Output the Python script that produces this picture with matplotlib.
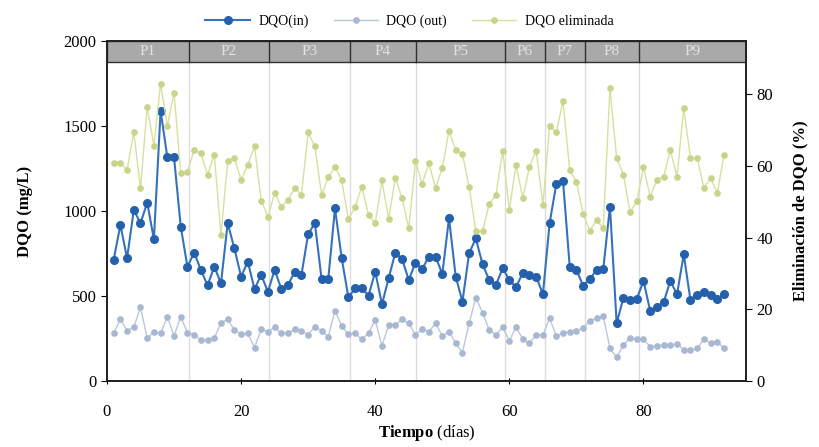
import matplotlib
matplotlib.use("Agg")
import matplotlib.pyplot as plt
import numpy as np

plt.rcParams['font.family'] = ['Liberation Serif', 'DejaVu Serif']
plt.rcParams['mathtext.fontset'] = 'custom'
plt.rcParams['mathtext.rm'] = 'Liberation Serif'
plt.rcParams['mathtext.bf'] = 'Liberation Serif:bold'

days = np.arange(1, 93)
dqo_in = [712, 918, 722, 1006, 928, 1049, 834, 1590, 1316, 1316,
          908, 672, 755, 653, 563, 672, 575, 928, 780, 614,
          702, 541, 624, 525, 653, 541, 565, 643, 624, 865,
          928, 600, 600, 1016, 722, 492, 545, 545, 502, 643,
          451, 604, 755, 718, 594, 696, 659, 731, 731, 629,
          957, 614, 467, 751, 839, 686, 594, 565, 663, 594,
          551, 637, 624, 614, 510, 928, 1159, 1178, 672, 653,
          561, 600, 653, 659, 1025, 339, 490, 476, 482, 590,
          412, 437, 463, 588, 510, 745, 476, 506, 525, 506,
          480, 512]
dqo_out = [280, 363, 296, 316, 434, 251, 290, 280, 378, 265,
           378, 284, 271, 241, 241, 251, 343, 363, 300, 275,
           280, 196, 304, 290, 316, 280, 280, 304, 296, 271,
           320, 294, 261, 414, 324, 275, 280, 245, 280, 359,
           206, 329, 329, 363, 339, 271, 304, 290, 339, 265,
           290, 222, 167, 339, 490, 402, 300, 271, 316, 237,
           316, 245, 222, 271, 271, 369, 265, 280, 290, 296,
           310, 355, 369, 382, 192, 139, 212, 251, 247, 245,
           202, 206, 212, 212, 218, 182, 182, 192, 245, 225,
           231, 192]
dqo_elim = [60.9, 60.7, 58.9, 69.4, 53.8, 76.4, 65.6, 82.9, 71.1, 80.4,
            57.9, 58.4, 64.4, 63.5, 57.5, 63.1, 40.7, 61.2, 62.1, 56.1,
            60.3, 65.4, 50.3, 45.8, 52.4, 48.6, 50.5, 53.8, 51.9, 69.3,
            65.4, 51.9, 56.8, 59.8, 55.9, 45.1, 48.5, 54.2, 46.3, 44.0,
            55.9, 45.2, 56.6, 51.0, 42.6, 61.2, 55.0, 60.7, 53.8, 59.3,
            69.8, 64.4, 63.3, 54.2, 41.7, 41.7, 49.4, 51.9, 64.2, 47.7,
            60.3, 51.0, 59.8, 64.2, 49.1, 71.0, 69.3, 78.1, 58.7, 55.6,
            46.6, 41.9, 44.9, 42.6, 81.7, 62.1, 57.5, 47.0, 50.2, 59.6,
            51.4, 56.1, 57.0, 64.3, 57.0, 76.1, 62.1, 62.1, 53.9, 56.6,
            52.4, 63.1]

phase_labels = ['P1', 'P2', 'P3', 'P4', 'P5', 'P6', 'P7', 'P8', 'P9']
phase_edges = [0, 12.2, 24.2, 36.2, 46.1, 59.3, 65.3, 71.3, 79.3, 95.3]

fig = plt.figure(figsize=(8.19, 4.47), dpi=100)
ax = fig.add_axes([0.1306, 0.1477, 0.7804, 0.7606])
ax2 = ax.twinx()

# phase band on top
band_lo = 1876
ax.axhspan(band_lo, 2000, facecolor='#a9a9a9', edgecolor='#303030', lw=1, zorder=1)
for e in phase_edges[1:-1]:
    ax.plot([e, e], [0, band_lo], color='#dcdcdc', lw=1, zorder=0)
    ax.plot([e, e], [band_lo, 2000], color='#303030', lw=1, zorder=2)
for i, lab in enumerate(phase_labels):
    xc = (phase_edges[i] + phase_edges[i + 1]) / 2
    ax.text(xc, (band_lo + 2000) / 2, lab, ha='center', va='center',
            color='#e2e2e2', fontsize=11, zorder=3)

l_in, = ax.plot(days, dqo_in, color='#3672bb', lw=1.5, marker='o', ms=5.5,
                mfc='#2460ab', mec='#2460ab', zorder=5, label='DQO(in)')
l_out, = ax.plot(days, dqo_out, color='#bcc7db', lw=1, marker='o', ms=3.8,
                 mfc='#a9b8d2', mec='#a9b8d2', zorder=4, label='DQO (out)')
l_el, = ax2.plot(days, dqo_elim, color='#d9df9f', lw=1, marker='o', ms=3.8,
                 mfc='#c9d48a', mec='#c9d48a', zorder=4, label='DQO eliminada')

ax.set_xlim(0, 95.3)
ax.set_ylim(0, 2000)
ax2.set_ylim(0, 94.8)
ax.set_xticks([0, 20, 40, 60, 80])
ax.set_yticks([0, 500, 1000, 1500, 2000])
ax2.set_yticks([0, 20, 40, 60, 80])
ax.tick_params(axis='x', direction='inout', length=5, labelsize=12, pad=14)
ax.tick_params(axis='y', direction='out', length=4, labelsize=12)
ax2.tick_params(axis='y', direction='out', length=4, labelsize=12)

for a in (ax, ax2):
    for s in a.spines.values():
        s.set_linewidth(1.3)
        s.set_color('#222222')

ax.set_ylabel('DQO (mg/L)', fontsize=12, fontweight='bold', labelpad=22)
ax2.set_ylabel('Eliminación de DQO (%)', fontsize=12, fontweight='bold', labelpad=14)
ax.set_xlabel(r'$\mathbf{Tiempo}$ (días)', fontsize=12, labelpad=2)

fig.legend(handles=[l_in, l_out, l_el], loc='center', bbox_to_anchor=(0.50, 0.953),
           ncol=3, frameon=False, fontsize=10, handlelength=3.2, columnspacing=1.8,
           handletextpad=0.6)

fig.savefig('out.png', dpi=100)
